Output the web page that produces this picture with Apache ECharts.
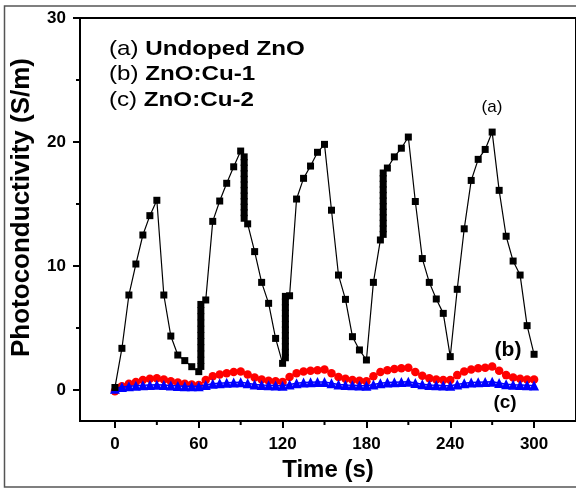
<!DOCTYPE html>
<html>
<head>
<meta charset="utf-8">
<script src="https://cdn.jsdelivr.net/npm/echarts@6/dist/echarts.min.js"></script>
<style>
  html, body { margin: 0; padding: 0; background: #fff; }
  #chart { width: 576px; height: 489px; }
</style>
</head>
<body>
<div id="chart"></div>
<script>
// (a) Undoped ZnO: photoconductivity vs time, including the dense clusters at the light switches
const timeA = [
  0, 5, 10, 15, 20, 25, 30, 35, 40, 45, 50, 55, 60,
  61.5, 61.5, 61.5, 61.5, 61.5, 61.5, 61.5, 61.5, 61.5, 61.5, 61.5,
  65, 70, 75, 80, 85, 90,
  92.5, 92.5, 92.5, 92.5, 92.5, 92.5, 92.5, 92.5, 92.5, 92.5, 92.5, 92.5,
  95, 100, 105, 110, 115, 120,
  122, 122, 122, 122, 122, 122, 122, 122, 122, 122, 122, 122,
  125, 130, 135, 140, 145, 150, 155, 160, 165, 170, 175, 180, 185, 190,
  192, 192, 192, 192, 192, 192, 192, 192, 192, 192, 192, 192,
  195, 200, 205, 210, 215, 220, 225, 230, 235, 240,
  245, 250, 255, 260, 265, 270, 275, 280, 285, 290, 295, 300
];
const photoA = [
  0.2, 3.36, 7.66, 10.16, 12.5, 14.06, 15.3, 7.66, 4.35, 2.82, 2.37, 1.88, 1.48,
  1.9, 2.4, 2.9, 3.4, 3.9, 4.4, 4.9, 5.4, 5.9, 6.4, 6.9,
  7.26, 13.6, 15.24, 16.67, 18.0, 19.27,
  18.8, 18.35, 17.9, 17.45, 17.0, 16.55, 16.1, 15.65, 15.2, 14.75, 14.3, 13.85,
  13.4, 11.16, 8.68, 6.99, 4.16, 2.15,
  2.6, 3.05, 3.5, 3.95, 4.4, 4.85, 5.3, 5.75, 6.2, 6.65, 7.1, 7.55,
  7.6, 15.4, 17.07, 18.06, 19.17, 19.81, 14.5, 9.27, 7.31, 4.3, 3.23, 2.42, 8.68, 12.1,
  12.55, 13.0, 13.45, 13.9, 14.35, 14.8, 15.25, 15.7, 16.15, 16.6, 17.05, 17.5,
  17.9, 18.8, 19.5, 20.4, 15.2, 10.6, 8.68, 7.34, 6.18, 2.69,
  8.12, 13.0, 16.9, 18.6, 19.4, 20.8, 16.1, 12.4, 10.4, 9.27, 5.19, 2.88
];

// (b) ZnO:Cu-1 and (c) ZnO:Cu-2, sampled every 5 s
const timeBC = [
  0, 5, 10, 15, 20, 25, 30, 35, 40, 45, 50, 55, 60,
  65, 70, 75, 80, 85, 90, 95, 100, 105, 110, 115, 120,
  125, 130, 135, 140, 145, 150, 155, 160, 165, 170, 175, 180,
  185, 190, 195, 200, 205, 210, 215, 220, 225, 230, 235, 240,
  245, 250, 255, 260, 265, 270, 275, 280, 285, 290, 295, 300
];
const photoB = [
  -0.1, 0.3, 0.5, 0.65, 0.8, 0.9, 0.95, 0.85, 0.7, 0.6, 0.5, 0.45, 0.4,
  0.8, 1.1, 1.25, 1.35, 1.45, 1.5, 1.25, 1.0, 0.85, 0.75, 0.7, 0.65,
  1.05, 1.35, 1.5, 1.55, 1.6, 1.65, 1.35, 1.05, 0.9, 0.8, 0.75, 0.7,
  1.1, 1.45, 1.6, 1.7, 1.75, 1.8, 1.45, 1.15, 0.95, 0.85, 0.8, 0.8,
  1.2, 1.5, 1.65, 1.75, 1.8, 1.9, 1.55, 1.2, 1.0, 0.9, 0.85, 0.85
];
const photoC = [
  0.1, 0.25, 0.3, 0.35, 0.38, 0.4, 0.42, 0.4, 0.36, 0.33, 0.3, 0.3, 0.3,
  0.4, 0.5, 0.55, 0.58, 0.6, 0.62, 0.55, 0.45, 0.4, 0.38, 0.36, 0.35,
  0.45, 0.55, 0.6, 0.62, 0.64, 0.65, 0.55, 0.45, 0.4, 0.38, 0.36, 0.35,
  0.45, 0.55, 0.6, 0.63, 0.65, 0.66, 0.56, 0.46, 0.4, 0.38, 0.36, 0.35,
  0.45, 0.55, 0.6, 0.63, 0.65, 0.67, 0.57, 0.47, 0.42, 0.4, 0.38, 0.37
];

// Axis ticks
const xMajorTicks = [0, 60, 120, 180, 240, 300];
const xMinorTicks = [30, 90, 150, 210, 270];
const yMajorTicks = [0, 10, 20, 30];
const yMinorTicks = [5, 15, 25];

const legendRows = [
  ['(a)', 'Undoped ZnO'],
  ['(b)', 'ZnO:Cu-1'],
  ['(c)', 'ZnO:Cu-2']
];

const FONT = '"Liberation Sans", Arial, sans-serif';
const X_MIN = -25, X_MAX = 330;
const Y_MIN = -2.5, Y_MAX = 30;
const zip = (xs, ys) => xs.map((x, i) => [x, ys[i]]);

// Short minor tick marks, placed through the cartesian scales
function minorTickSeries(values, onXAxis, length) {
  return {
    type: 'custom', silent: true, clip: false, z: 6,
    data: values.map(v => onXAxis ? [v, Y_MIN] : [X_MIN, v]),
    encode: { x: 0, y: 1 },
    renderItem: (params, api) => {
      const p = api.coord([api.value(0), api.value(1)]);
      const shape = onXAxis
        ? { x1: p[0], y1: p[1], x2: p[0], y2: p[1] + length }
        : { x1: p[0], y1: p[1], x2: p[0] - length, y2: p[1] };
      return { type: 'line', shape: shape, style: { stroke: '#000', lineWidth: 2 } };
    }
  };
}

const chart = echarts.init(document.getElementById('chart'), null, { renderer: 'canvas' });

chart.setOption({
  animation: false,
  backgroundColor: '#fff',
  grid: {
    left: 80, top: 18, right: -9, bottom: 68,
    show: true, borderColor: '#000', borderWidth: 2
  },
  xAxis: {
    type: 'value', min: X_MIN, max: X_MAX,
    splitLine: { show: false },
    axisLine: { show: true, onZero: false, lineStyle: { color: '#000', width: 2 } },
    axisTick: { show: true, customValues: xMajorTicks, length: 7, lineStyle: { color: '#000', width: 2 } },
    name: 'Time (s)', nameLocation: 'middle', nameGap: 31,
    nameTextStyle: { fontFamily: FONT, fontWeight: 'bold', fontSize: 24, color: '#000' },
    axisLabel: { customValues: xMajorTicks, margin: 15, fontFamily: FONT, fontWeight: 'bold', fontSize: 17, color: '#000' }
  },
  yAxis: {
    type: 'value', min: Y_MIN, max: Y_MAX,
    splitLine: { show: false },
    axisLine: { show: true, onZero: false, lineStyle: { color: '#000', width: 2 } },
    axisTick: { show: true, customValues: yMajorTicks, length: 7, lineStyle: { color: '#000', width: 2 } },
    name: 'Photoconductivity (S/m)', nameLocation: 'middle', nameGap: 45, nameRotate: 90,
    nameTextStyle: { fontFamily: FONT, fontWeight: 'bold', fontSize: 26, color: '#000', padding: [0, 0, 0, 24] },
    axisLabel: { customValues: yMajorTicks, margin: 14, fontFamily: FONT, fontWeight: 'bold', fontSize: 17, color: '#000' }
  },
  series: [
    {
      name: 'ZnO:Cu-1', type: 'line', data: zip(timeBC, photoB),
      symbol: 'circle', symbolSize: 8.5, showAllSymbol: true,
      itemStyle: { color: '#ff0000' }, lineStyle: { color: '#ff0000', width: 1.5 }, z: 2
    },
    {
      name: 'ZnO:Cu-2', type: 'line', data: zip(timeBC, photoC),
      symbol: 'triangle', symbolSize: 10, showAllSymbol: true,
      itemStyle: { color: '#0000ff' }, lineStyle: { color: '#0000ff', width: 1.5 }, z: 3
    },
    {
      name: 'Undoped ZnO', type: 'line', data: zip(timeA, photoA),
      symbol: 'rect', symbolSize: 7, showAllSymbol: true,
      itemStyle: { color: '#000' }, lineStyle: { color: '#000', width: 1.2 }, z: 4
    },
    minorTickSeries(xMinorTicks, true, 4),
    minorTickSeries(yMinorTicks, false, 4)
  ],
  graphic: [
    // outer frame around the figure
    {
      type: 'rect', silent: true, z: 0,
      shape: { x: 4.5, y: 6, width: 620, height: 481 },
      style: { fill: null, stroke: '#555', lineWidth: 1.5 }
    },
    // legend text block
    ...legendRows.map((row, i) => ({
      type: 'text', x: 109, y: 49 + i * 25.5, scaleX: 1.15, z: 10,
      style: {
        text: '{p|' + row[0] + '} {b|' + row[1] + '}',
        x: 0, y: 0, textAlign: 'left', textVerticalAlign: 'middle', fill: '#000',
        fontFamily: FONT, fontSize: 21,
        rich: {
          p: { fontFamily: FONT, fontSize: 21, fontWeight: 'normal', fill: '#000' },
          b: { fontFamily: FONT, fontSize: 21, fontWeight: 'bold', fill: '#000' }
        }
      }
    })),
    // curve tags
    {
      type: 'text', x: 492, y: 107, z: 10,
      style: { text: '(a)', textAlign: 'center', textVerticalAlign: 'middle', fill: '#000', fontFamily: FONT, fontSize: 17 }
    },
    {
      type: 'text', x: 508, y: 350, z: 10,
      style: { text: '(b)', textAlign: 'center', textVerticalAlign: 'middle', fill: '#000', fontFamily: FONT, fontSize: 21, fontWeight: 'bold' }
    },
    {
      type: 'text', x: 505, y: 403, z: 10,
      style: { text: '(c)', textAlign: 'center', textVerticalAlign: 'middle', fill: '#000', fontFamily: FONT, fontSize: 19, fontWeight: 'bold' }
    }
  ]
});
</script>
</body>
</html>
